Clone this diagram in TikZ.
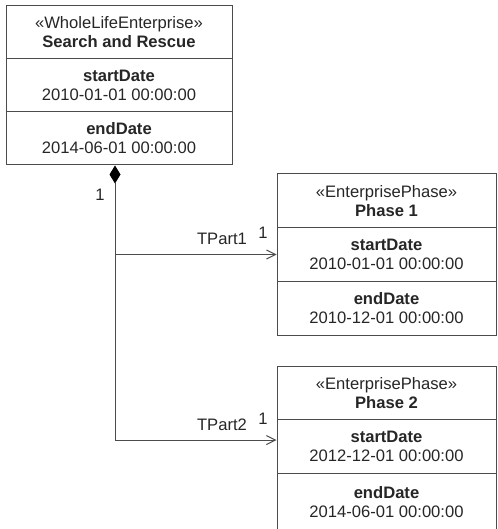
\documentclass[tikz,border=0pt]{standalone}
\usepackage{fontspec}
\setmainfont{Liberation Sans}
\usetikzlibrary{arrows.meta}
\begin{document}
\begin{tikzpicture}[x=1pt,y=-1pt,font=\fontsize{16.6}{19}\selectfont,
cpt/.style={draw=black!70,line width=1pt,align=center,inner sep=0pt,text=black!85},
wl/.style={cpt,minimum width=226pt,minimum height=53pt},ph/.style={cpt,minimum width=219pt,minimum height=53.7pt},
cn/.style={draw=black!70,line width=1pt},lbl/.style={text=black!85,inner sep=0pt}]
\useasboundingbox(0,0)rectangle(497,529);
\node[wl](sar)at(119,32.5){«WholeLifeEnterprise»\\\textbf{Search and Rescue}};\node[wl](sars)at(119,85.5){\textbf{startDate}\\2010-01-01 00:00:00};\node[wl](sare)at(119,138.5){\textbf{endDate}\\2014-06-01 00:00:00};
\node[ph](p1)at(386.5,200.8){«EnterprisePhase»\\\textbf{Phase 1}};\node[ph](p1s)at(386.5,254.5){\textbf{startDate}\\2010-01-01 00:00:00};\node[ph](p1e)at(386.5,308.2){\textbf{endDate}\\2010-12-01 00:00:00};
\node[ph](p2)at(386.5,392.9){«EnterprisePhase»\\\textbf{Phase 2}};\node[ph](p2s)at(386.5,446.6){\textbf{startDate}\\2012-12-01 00:00:00};\node[ph,minimum height=57pt](p2e)at(386.5,502){\textbf{endDate}\\2014-06-01 00:00:00};
\draw[cn,{Diamond[length=18pt,width=11pt,color=black]}-{Straight Barb[length=9pt,width=9pt]}]([xshift=-4pt]sare.south)|-([yshift=6.5pt]p2s.west);
\draw[cn,-{Straight Barb[length=9pt,width=9pt]}]([xshift=-4pt]sare.south|-p1s.west)--(p1s.west);
\node[lbl](m0)at(100,195){1};\node[lbl](r1)at(222,239){TPart1};\node[lbl](m1)at(263,233){1};\node[lbl](r2)at(222,425){TPart2};\node[lbl](m2)at(263,419){1};
\end{tikzpicture}
\end{document}
